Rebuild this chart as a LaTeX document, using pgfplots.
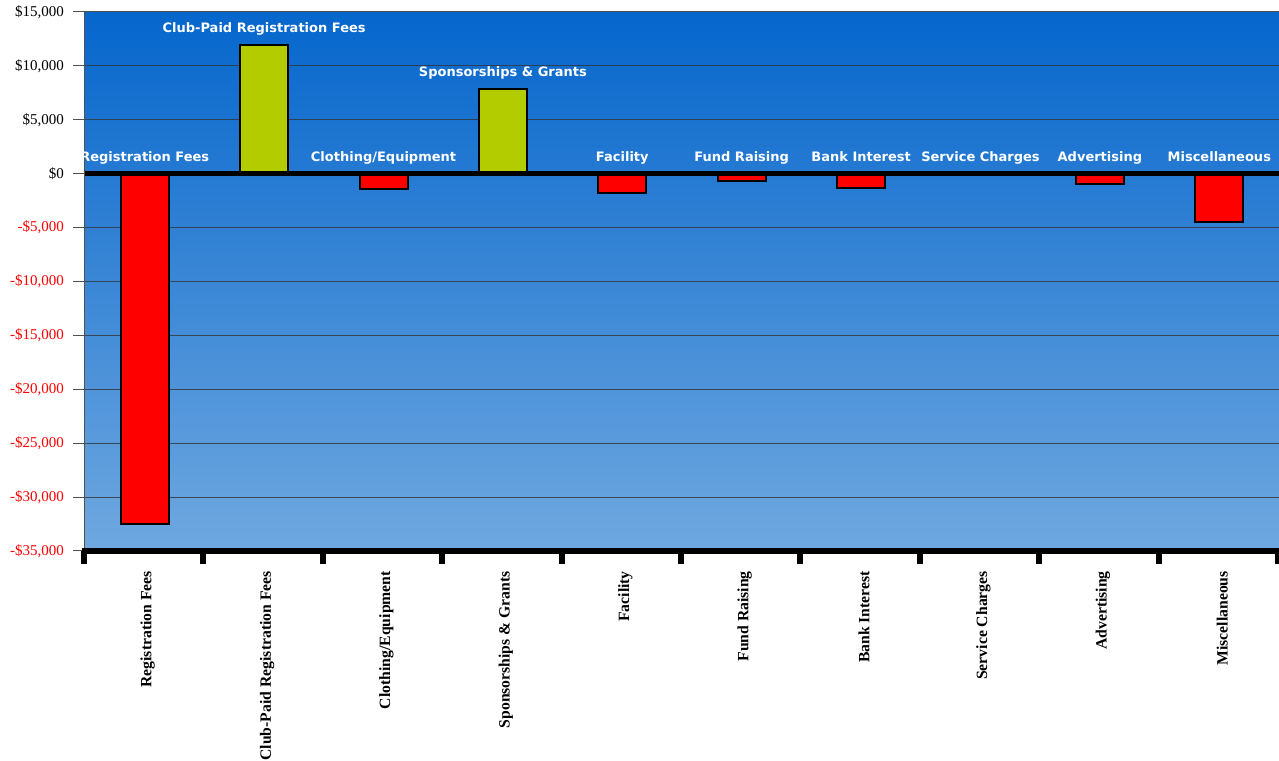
\documentclass[border=0pt]{standalone}
\usepackage{pgfplots}
\pgfplotsset{compat=1.18}
\usepackage{fontspec}
\setmainfont{Liberation Serif}
\newfontfamily\dejavu{DejaVu Sans}
\definecolor{bgtop}{RGB}{5,102,204}
\definecolor{bgbot}{RGB}{111,168,224}
\definecolor{barred}{RGB}{255,0,0}
\definecolor{bargreen}{RGB}{178,204,0}
\definecolor{axgray}{RGB}{80,80,80}
\begin{document}
\begin{tikzpicture}
\begin{axis}[name=ax, scale only axis, width=1194pt, height=539pt,
  xmin=-0.5, xmax=9.5, ymin=-35000, ymax=15000,
  axis background/.style={top color=bgtop, bottom color=bgbot},
  axis line style={draw=axgray, line width=1pt},
  ymajorgrids, grid style={draw=black!80, line width=1pt, opacity=0.8},
  ytick={-35000,-30000,-25000,-20000,-15000,-10000,-5000,0,5000,10000,15000},
  yticklabels={{\textcolor{red}{-\$35,000}},{\textcolor{red}{-\$30,000}},{\textcolor{red}{-\$25,000}},{\textcolor{red}{-\$20,000}},{\textcolor{red}{-\$15,000}},{\textcolor{red}{-\$10,000}},{\textcolor{red}{-\$5,000}},{\$0},{\$5,000},{\$10,000},{\$15,000}},
  yticklabel style={font=\fontsize{15}{15}\selectfont, inner sep=0pt, xshift=-9pt},
  ytick pos=left, ytick align=outside,
  major tick length=12pt,
  every tick/.style={draw=axgray, line width=1pt},
  xtick={0,1,2,3,4,5,6,7,8,9},
  xticklabels={Registration Fees,Club-Paid Registration Fees,Clothing/Equipment,Sponsorships \& Grants,Facility,Fund Raising,Bank Interest,Service Charges,Advertising,Miscellaneous},
  xticklabel style={rotate=90, anchor=east, inner sep=0pt, xshift=-8pt, yshift=-3pt, font=\bfseries\fontsize{15.7}{16}\selectfont},
  xtick pos=bottom, xtick align=outside,
  x tick style={draw=none},
  clip=false,
]
\addplot[ybar, bar width=48pt, bar shift=0pt, fill=barred, draw=black, line width=2pt]
  coordinates {(0,-32500) (2,-1400) (4,-1800) (5,-650) (6,-1300) (8,-950) (9,-4500)};
\addplot[ybar, bar width=48pt, bar shift=0pt, fill=bargreen, draw=black, line width=2pt]
  coordinates {(1,11950) (3,7900)};
\addplot[black, line width=5pt, forget plot] coordinates {(-0.5,0) (9.5,0)};
\addplot[only marks, mark=*, mark size=0pt, mark options={draw=none, fill=none},
  nodes near coords, point meta=explicit symbolic,
  every node near coord/.style={anchor=base, inner sep=0pt, yshift=12pt, text=white, font=\dejavu\bfseries\fontsize{13}{14}\selectfont}]
  coordinates {(0,0) [Registration Fees] (1,11950) [Club-Paid Registration Fees] (2,0) [Clothing/Equipment] (3,7900) [Sponsorships \& Grants] (4,0) [Facility] (5,0) [Fund Raising] (6,0) [Bank Interest] (7,0) [Service Charges] (8,0) [Advertising] (9,0) [Miscellaneous]};
\end{axis}
\draw[black, line width=6pt] ([xshift=-3pt]ax.south west) -- (ax.south east);
\foreach \i in {0,...,10} {
  \draw[black, line width=6pt] ([xshift=\i*119.4pt-1pt]ax.south west) -- ++(0,-13pt);
}
\pgfresetboundingbox
\path ([shift={(-85pt,12pt)}]ax.north west) rectangle ([shift={(0pt,-210pt)}]ax.south east);
\end{tikzpicture}
\end{document}
